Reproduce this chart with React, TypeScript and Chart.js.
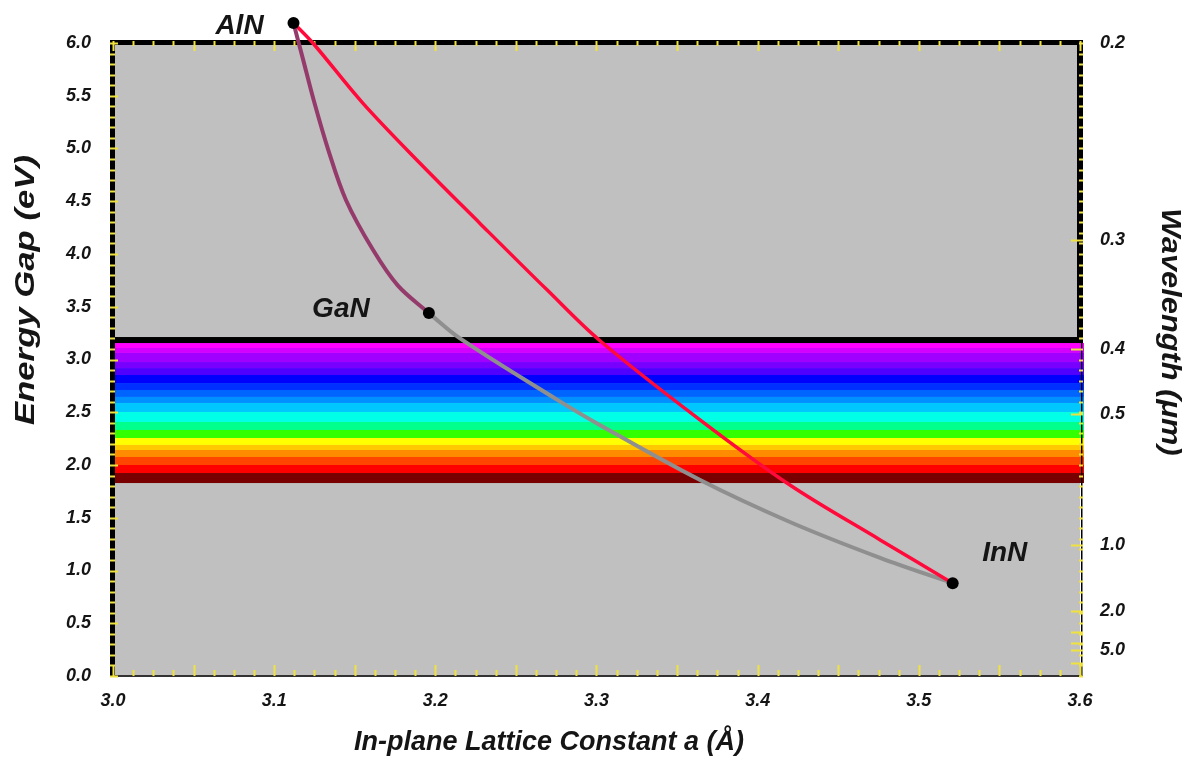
import { useEffect, useRef } from 'react';
import { Chart, registerables } from 'chart.js';

Chart.register(...registerables);

// ---- data ----
const compoundNames = ['AlN', 'GaN', 'InN'];
const compoundLattice = [3.112, 3.196, 3.521];
const compoundGap = [6.19, 3.44, 0.88];

const alganLattice = [3.112, 3.118, 3.1245, 3.1335, 3.1446, 3.1613, 3.1768, 3.196];
const alganGap = [6.19, 5.84, 5.46, 4.99, 4.51, 4.04, 3.70, 3.44];

const alinnLattice = [3.112, 3.124, 3.155, 3.1905, 3.2277, 3.2693, 3.302, 3.364, 3.42, 3.476, 3.521];
const alinnGap = [6.19, 6.0, 5.43, 4.86, 4.29, 3.66, 3.18, 2.43, 1.81, 1.29, 0.88];

const inganLattice = [3.196, 3.2153, 3.2755, 3.302, 3.364, 3.42, 3.476, 3.521];
const inganGap = [3.44, 3.2, 2.62, 2.38, 1.86, 1.46, 1.12, 0.88];

const spectrumCap = [3.213, 3.156];
const bandEdges = [3.156, 3.109, 3.062, 2.976, 2.919, 2.853, 2.777, 2.711, 2.645, 2.588, 2.502, 2.408, 2.332, 2.256, 2.19, 2.142, 2.076, 2.0, 1.924, 1.829];
const bandColors = ['#ff00ff', '#d400ff', '#a000ff', '#7800ff', '#5000ff', '#0000ff', '#0030ff', '#0064ff', '#0090ff', '#00c8ff', '#00ffe6', '#00ff8c', '#32ff00', '#ffff00', '#ffc800', '#ff8c00', '#ff4600', '#ff0000', '#780000'];

const wavelengthTicks = [0.2, 0.3, 0.4, 0.5, 1.0, 2.0, 5.0];
const wavelengthMarks = [0.3, 0.4, 0.5, 1.0, 2.0, 3.0, 4.0, 5.0, 10.0];

// ---- styles ----
const FONT = '"Liberation Sans", Arial, sans-serif';
const TICK_FONT = { family: FONT, size: 18, weight: 'bold' as const, style: 'italic' as const };
const TEXT = '#151515';
const YELLOW = '#efe23e';
const labelOffsets = [[-54, 3], [-88, -4], [52, -30]];

const toPoints = (xs: number[], ys: number[]) => xs.map((x, i) => ({ x, y: ys[i] }));

function drawStretched(ctx: any, text: string, cx: number, cy: number, rot: number, sx: number) {
  ctx.save();
  ctx.translate(cx, cy);
  ctx.rotate(rot);
  ctx.scale(sx, 1);
  ctx.fillText(text, 0, 0);
  ctx.restore();
}

const framePlugin = {
  id: 'frame',
  beforeDatasetsDraw(chart: any) {
    const { ctx, chartArea: a, scales } = chart;
    const y = scales.y;
    const x = scales.x;
    ctx.save();
    ctx.fillStyle = '#c0c0c0';
    ctx.fillRect(a.left, a.top, a.right - a.left, a.bottom - a.top);
    for (let i = 0; i < bandColors.length; i++) {
      const t = y.getPixelForValue(bandEdges[i]);
      const b = y.getPixelForValue(bandEdges[i + 1]);
      ctx.fillStyle = bandColors[i];
      ctx.fillRect(a.left, t, a.right - a.left + 4, b - t);
    }
    const ct = y.getPixelForValue(spectrumCap[0]);
    const cb = y.getPixelForValue(spectrumCap[1]);
    ctx.fillStyle = '#000';
    ctx.fillRect(a.left, ct, a.right - a.left + 3, cb - ct);
    ctx.fillStyle = '#000';
    ctx.fillRect(a.left - 3, a.top - 3, 5, a.bottom - a.top + 4);
    ctx.fillRect(a.left - 3, a.top - 3, a.right - a.left + 6, 5);
    ctx.fillRect(a.right - 3, a.top - 3, 6, ct - a.top + 3);
    ctx.fillRect(a.right + 1, ct, 1.5, a.bottom - ct);
    ctx.fillStyle = '#333';
    ctx.fillRect(a.left, a.bottom - 1, a.right - a.left + 3, 2);
    ctx.strokeStyle = YELLOW;
    ctx.lineWidth = 2;
    ctx.beginPath();
    for (let i = 0; i <= 48; i++) {
      const v = 3 + i * 0.0125;
      const px = Math.round(x.getPixelForValue(v)) + 0.5;
      const major = i % 4 === 0;
      ctx.moveTo(px, a.bottom);
      ctx.lineTo(px, a.bottom - (major ? 11 : 6));
      ctx.moveTo(px, a.top - 2);
      ctx.lineTo(px, a.top - 2 + (major ? 10 : 5));
    }
    for (let i = 0; i <= 60; i++) {
      const v = i * 0.1;
      const py = Math.round(y.getPixelForValue(v)) + 0.5;
      const major = i % 5 === 0;
      ctx.moveTo(a.left - 3, py);
      ctx.lineTo(a.left - 3 + (major ? 8 : 5), py);
      ctx.moveTo(a.right + 3, py);
      ctx.lineTo(a.right + 3 - 4, py);
    }
    wavelengthMarks.forEach((w) => {
      const py = Math.round(y.getPixelForValue(1.24 / w)) + 0.5;
      ctx.moveTo(a.right + 3, py);
      ctx.lineTo(a.right + 3 - 12, py);
    });
    ctx.stroke();
    ctx.restore();
  },
  afterDatasetsDraw(chart: any) {
    const { ctx, scales } = chart;
    ctx.save();
    ctx.fillStyle = '#000';
    compoundNames.forEach((_n, i) => {
      const px = scales.x.getPixelForValue(compoundLattice[i]);
      const py = scales.y.getPixelForValue(compoundGap[i]);
      ctx.beginPath();
      ctx.arc(px, py, 6, 0, Math.PI * 2);
      ctx.fill();
    });
    ctx.restore();
  },
  afterDraw(chart: any) {
    const { ctx, scales } = chart;
    ctx.save();
    ctx.fillStyle = TEXT;
    ctx.textAlign = 'center';
    ctx.textBaseline = 'middle';
    ctx.font = `italic bold 28px ${FONT}`;
    compoundNames.forEach((n, i) => {
      const px = scales.x.getPixelForValue(compoundLattice[i]);
      const py = scales.y.getPixelForValue(compoundGap[i]);
      ctx.fillText(n, px + labelOffsets[i][0], py + labelOffsets[i][1]);
    });
    ctx.font = `italic bold 27px ${FONT}`;
    ctx.fillText('In-plane Lattice Constant a (Å)', 549, 743);
    ctx.font = `italic bold 28px ${FONT}`;
    drawStretched(ctx, 'Energy Gap (eV)', 26, 290, -Math.PI / 2, 1.24);
    drawStretched(ctx, 'Wavelength (μm)', 1170, 332, Math.PI / 2, 1.1);
    ctx.restore();
  },
};

export default function App() {
  const ref = useRef<HTMLCanvasElement | null>(null);
  useEffect(() => {
    if (!ref.current) return;
    const line = (xs: number[], ys: number[], color: string, w: number) => ({
      data: toPoints(xs, ys),
      showLine: true,
      borderColor: color,
      borderWidth: w,
      pointRadius: 0,
      tension: 0.35,
      clip: false,
    });
    const chart = new Chart(ref.current, {
      type: 'scatter',
      data: {
        datasets: [
          line(alganLattice, alganGap, '#953b6c', 4),
          line(alinnLattice, alinnGap, '#ff0a3a', 3.5),
          line(inganLattice, inganGap, '#8f8f8f', 4),
        ],
      },
      options: {
        responsive: false,
        animation: false,
        layout: { padding: { top: 43, left: 0, right: 0, bottom: 0 } },
        plugins: { legend: { display: false }, tooltip: { enabled: false } },
        scales: {
          x: {
            type: 'linear',
            min: 3.0,
            max: 3.6,
            ticks: { stepSize: 0.1, callback: (v: any) => Number(v).toFixed(1), font: TICK_FONT, color: TEXT, padding: 14 },
            grid: { display: false, drawTicks: false },
            border: { display: false },
            afterFit: (s: any) => { s.height = 83; },
          },
          y: {
            type: 'linear',
            position: 'left',
            min: 0,
            max: 6,
            ticks: { stepSize: 0.5, callback: (v: any) => Number(v).toFixed(1), font: TICK_FONT, color: TEXT, padding: 22 },
            grid: { display: false, drawTicks: false },
            border: { display: false },
            afterFit: (s: any) => { s.width = 113; },
          },
          y2: {
            type: 'linear',
            position: 'right',
            min: 0,
            max: 6,
            afterBuildTicks: (axis: any) => {
              axis.ticks = wavelengthTicks.map((w) => ({ value: Math.min(6, 1.24 / w) }));
            },
            ticks: {
              autoSkip: false,
              callback: (_v: any, i: number) => wavelengthTicks[i].toFixed(1),
              font: TICK_FONT,
              color: TEXT,
              padding: 20,
            },
            grid: { display: false, drawTicks: false },
            border: { display: false },
            afterFit: (s: any) => { s.width = 108; },
          },
        },
      } as any,
      plugins: [framePlugin],
    });
    return () => chart.destroy();
  }, []);
  return (
    <div style={{ position: 'absolute', left: 0, top: 0, width: 1188, height: 759, background: '#fff' }}>
      <canvas ref={ref} width={1188} height={759} style={{ display: 'block' }} />
    </div>
  );
}
